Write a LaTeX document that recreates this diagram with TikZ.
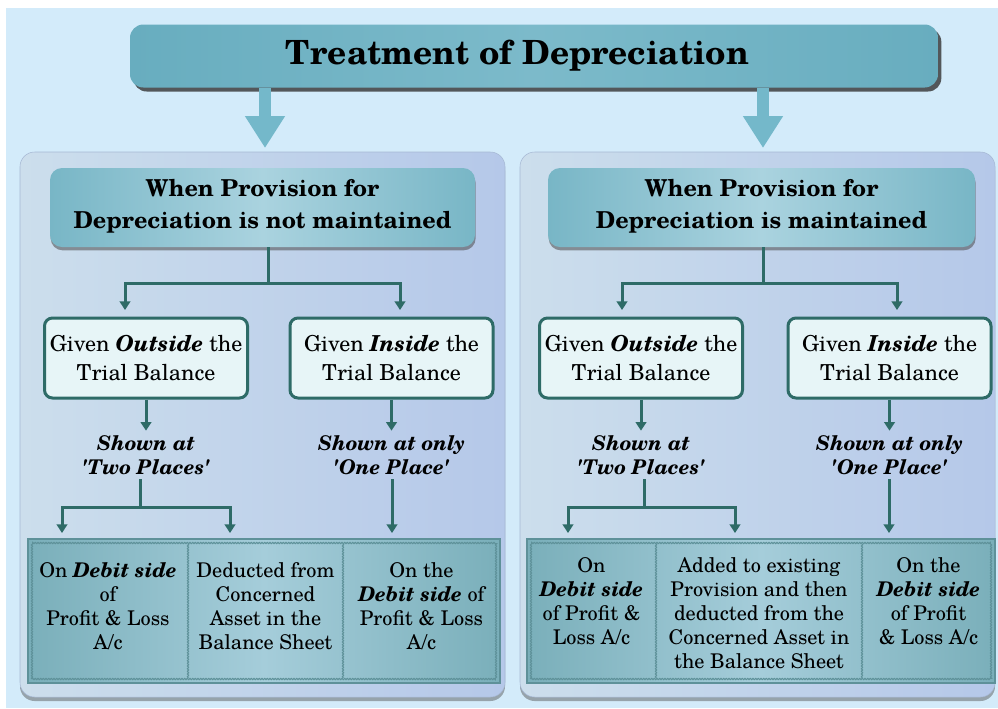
\documentclass[tikz,border=0pt]{standalone}
\usepackage{fontspec}
\setmainfont{texgyreschola}[Extension=.otf, UprightFont=*-regular, BoldFont=*-bold, ItalicFont=*-italic, BoldItalicFont=*-bolditalic]
\usepackage{tikz}
\usetikzlibrary{arrows.meta,shadows}
\usetikzlibrary{positioning}
\usetikzlibrary{decorations.pathmorphing}

\definecolor{bgblue}{HTML}{D3EBFA}
\definecolor{tealdark}{HTML}{68ADBF}
\definecolor{teallight}{HTML}{7CBACA}
\definecolor{arrowteal}{HTML}{74B8CA}
\definecolor{panelA}{HTML}{CCDEEC}
\definecolor{panelB}{HTML}{B5C8E9}
\definecolor{paneledge}{HTML}{A6B8D4}
\definecolor{headA}{HTML}{78B6C6}
\definecolor{headB}{HTML}{AAD3DF}
\definecolor{givenfill}{HTML}{E7F5F7}
\definecolor{linkc}{HTML}{2E6B67}
\definecolor{botA}{HTML}{7AAFBA}
\definecolor{botB}{HTML}{A5CDDA}
\definecolor{botedge}{HTML}{5E9199}

\newcommand{\pxu}{0.75pt}
\newcommand{\bodyfont}{\fontsize{15.2pt}{18pt}\selectfont}
\newcommand{\bi}[1]{\textbf{\textit{#1}}}
\newcommand{\sq}{\textquotesingle}

\tikzstyle{titlebox}=[rounded corners=10pt, left color=tealdark, right color=tealdark, middle color=teallight,
  drop shadow={shadow xshift=2.5pt, shadow yshift=-3pt, fill=black!80, opacity=0.8},
  minimum width=808*\pxu, minimum height=63*\pxu, font=\fontsize{25pt}{30pt}\selectfont\bfseries]
\tikzstyle{panel}=[rounded corners=11pt, draw=paneledge, left color=panelA, right color=panelB,
  drop shadow={shadow xshift=0pt, shadow yshift=-3pt, fill=black!70, opacity=0.45},
  minimum height=545*\pxu]
\tikzstyle{headbox}=[rounded corners=9pt, left color=headA, right color=headA, middle color=headB,
  drop shadow={shadow xshift=0.5pt, shadow yshift=-2.5pt, fill=black!70, opacity=0.55},
  minimum height=79*\pxu, align=center, font=\fontsize{17.5pt}{24pt}\selectfont\bfseries]
\tikzstyle{givenbox}=[rounded corners=6pt, draw=linkc, line width=2.25pt, fill=givenfill,
  minimum width=203*\pxu, minimum height=80*\pxu, align=center, font=\fontsize{16.5pt}{22pt}\selectfont]
\tikzstyle{shown}=[align=center, font=\fontsize{15.2pt}{18pt}\selectfont\bfseries\itshape]
\tikzstyle{botbox}=[draw=botedge, line width=2pt, left color=botA, right color=botA, middle color=botB,
  minimum height=144*\pxu]
\tikzstyle{cell}=[align=center, anchor=north, inner sep=0pt, font=\bodyfont]
\tikzstyle{zig}=[draw=botedge, line width=0.8pt, decorate, decoration={zigzag, amplitude=0.45pt, segment length=2pt}]
\tikzstyle{link}=[draw=linkc, line width=2.25pt]
\tikzstyle{bigarrow}=[draw=arrowteal, line width=9pt, -{Triangle[width=28.5pt,length=24pt]}]
\tikzset{>={Triangle[width=8pt,length=6.5pt]}}

\begin{document}
\begin{tikzpicture}[x=0.75pt,y=-0.75pt]
        \useasboundingbox (0,0) rectangle (998,708);
        \fill[bgblue] (6,8) rectangle (998,708);

        % Title
        \node at (534,56) [titlebox] (title) {Treatment of Depreciation\hspace*{25pt}};

        % Big arrows
        \coordinate (tip_L) at (265,148);
        \coordinate (tip_R) at (763,148);
        \foreach \s in {L,R}
          \draw [bigarrow] (title.south -| tip_\s) to (tip_\s);

        % Panels
        \node at (262.5,424.5) [panel, minimum width=485*\pxu] (panel_L) {};
        \node at (757.5,424.5) [panel, minimum width=475*\pxu] (panel_R) {};

        % Headers
        \node at (262.5,207.5) [headbox, minimum width=425*\pxu, text depth=5pt] (head_L)
          {When Provision for\\Depreciation is not maintained};
        \node at (761.5,207.5) [headbox, minimum width=427*\pxu, text depth=5pt] (head_R)
          {When Provision for\\Depreciation is maintained};

        % Given
        \node at (146,358) [givenbox] (given_L1) {Given \bi{Outside} the\\Trial Balance};
        \node at (391.5,358) [givenbox] (given_L2) {Given \bi{Inside} the\\Trial Balance};
        \node at (641,358) [givenbox] (given_R1) {Given \bi{Outside} the\\Trial Balance};
        \node at (889.5,358) [givenbox] (given_R2) {Given \bi{Inside} the\\Trial Balance};

        % Shown
        \node at (146,455) [shown] (shown_L1) {Shown at\\\sq Two Places\sq};
        \node at (391.5,455) [shown] (shown_L2) {Shown at only\\\sq One Place\sq};
        \node at (641,455) [shown] (shown_R1) {Shown at\\\sq Two Places\sq};
        \node at (889.5,455) [shown] (shown_R2) {Shown at only\\\sq One Place\sq};

        % Bottom boxes
        \node at (264,611) [botbox, minimum width=472*\pxu] (bot_L) {};
        \node at (761,611) [botbox, minimum width=468*\pxu] (bot_R) {};
        \foreach \s in {L,R}
          \draw [zig] ([xshift=4pt,yshift=4pt]bot_\s.south west) rectangle ([xshift=-4pt,yshift=-4pt]bot_\s.north east);
        \foreach \x in {188,343,656,862}
          \draw [zig] (\x,544) -- (\x,678);

        % Cells
        \node at (108,562) [cell] (cell_L1) {On \bi{Debit side}\\of\\Profit \& Loss\\A/c};
        \node at (265.5,562) [cell] (cell_L2) {Deducted from\\Concerned\\Asset in the\\Balance Sheet};
        \node at (421.5,562) [cell] (cell_L3) {On the\\\bi{Debit side} of\\Profit \& Loss\\A/c};
        \node at (591.5,557) [cell] (cell_R1) {On\\\bi{Debit side}\\of Profit \&\\Loss A/c};
        \node at (759,557) [cell] (cell_R2) {Added to existing\\Provision and then\\deducted from the\\Concerned Asset in\\the Balance Sheet};
        \node at (928.5,557) [cell] (cell_R3) {On the\\\bi{Debit side}\\of Profit\\\& Loss A/c};

        % Links header -> given
        \coordinate (fork_L) at (268,283);
        \coordinate (fork_R) at (763,283);
        \coordinate (drop_L1) at (125,310);
        \coordinate (drop_L2) at (400,310);
        \coordinate (drop_R1) at (622,310);
        \coordinate (drop_R2) at (897,310);
        \foreach \s in {L,R} {
          \draw [link] (head_\s.south -| fork_\s) to (fork_\s);
          \draw [link,->] (fork_\s) -| (drop_\s1);
          \draw [link,->] (fork_\s) -| (drop_\s2);
        }

        % Links given -> shown
        \foreach \n in {L1,L2,R1,R2}
          \draw [link,->] (given_\n) to (shown_\n);

        % Links shown -> bottom
        \coordinate (split_L) at (140,507);
        \coordinate (split_R) at (644,507);
        \coordinate (end_L1) at (62,533);
        \coordinate (end_L2) at (230,533);
        \coordinate (end_L3) at (392,533);
        \coordinate (end_R1) at (568,533);
        \coordinate (end_R2) at (735,533);
        \coordinate (end_R3) at (889,533);
        \foreach \s in {L,R} {
          \draw [link] (shown_\s1.south -| split_\s) to (split_\s);
          \draw [link,->] (split_\s) -| (end_\s1);
          \draw [link,->] (split_\s) -| (end_\s2);
          \draw [link,->] (shown_\s2.south -| end_\s3) to (end_\s3);
        }
\end{tikzpicture}
\end{document}
